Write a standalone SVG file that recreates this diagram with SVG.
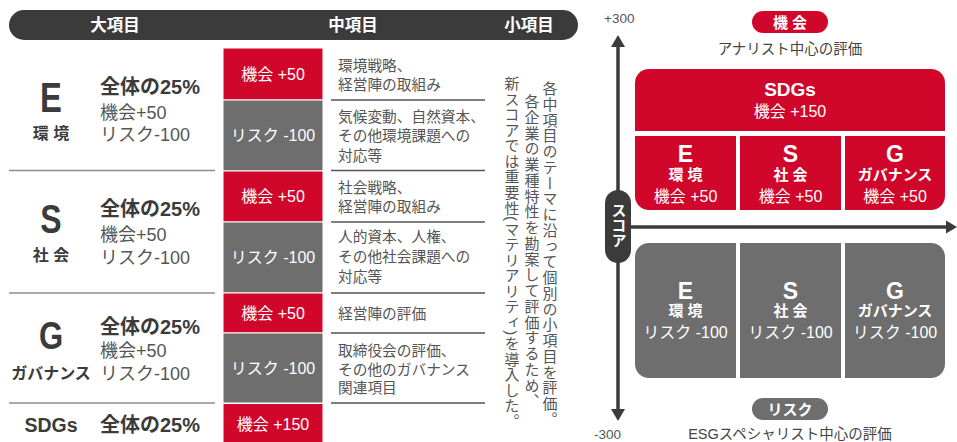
<svg xmlns="http://www.w3.org/2000/svg" width="957" height="442" viewBox="0 0 957 442">
<style>
text{font-family:"Liberation Sans","Noto Sans CJK JP",sans-serif}
.hd{font-size:16.5px;font-weight:bold;fill:#fff;text-anchor:middle}
.big{font-weight:bold;fill:#3b3b3b;text-anchor:middle}
.cat{font-size:16px;font-weight:bold;fill:#3b3b3b;text-anchor:middle}
.pct{font-size:20px;font-weight:bold;fill:#3b3b3b}
.sub{font-size:18px;fill:#555}
.bx{font-size:16px;fill:#fff;text-anchor:middle}
.mid{font-size:14.7px;fill:#555}
.vt{font-size:15px;fill:#555;writing-mode:vertical-rl;letter-spacing:0.75px}
.red{fill:#d1062b}
.gry{fill:#6e6e6e}
.sepL{stroke:#8c8c8c;stroke-width:1.5}
.sepM{stroke:#555;stroke-width:1.5}
.wb{font-weight:bold;fill:#fff;text-anchor:middle}
.axis{stroke:#3b3b3b;stroke-width:3.5;fill:none}
.lab{font-size:13.5px;fill:#555}
.cap{font-size:14.5px;fill:#444;text-anchor:middle}
</style>

<g id="header">
<rect x="9" y="10" width="569" height="30" rx="15" fill="#3b3b3b"/>
<text class="hd" x="115" y="31">大項目</text>
<text class="hd" x="353" y="31">中項目</text>
<text class="hd" x="529" y="31">小項目</text>
</g>

<g id="separators">
<line class="sepL" x1="9" y1="170.5" x2="215" y2="170.5"/>
<line class="sepL" x1="9" y1="293" x2="215" y2="293"/>
<line class="sepL" x1="9" y1="403" x2="215" y2="403"/>
<line class="sepM" x1="331" y1="100" x2="485" y2="100"/>
<line class="sepM" x1="331" y1="170.5" x2="485" y2="170.5"/>
<line class="sepM" x1="331" y1="222" x2="485" y2="222"/>
<line class="sepM" x1="331" y1="293" x2="485" y2="293"/>
<line class="sepM" x1="331" y1="333" x2="485" y2="333"/>
<line class="sepM" x1="331" y1="403" x2="485" y2="403"/>
</g>

<g id="row-E">
<text class="big" font-size="42" transform="translate(51,112) scale(0.78,1)">E</text>
<text class="cat" x="51" y="139">環 境</text>
<text class="pct" x="100" y="94">全体の25%</text>
<text class="sub" x="100" y="119">機会+50</text>
<text class="sub" x="100" y="141">リスク-100</text>
</g>
<g id="row-S">
<text class="big" font-size="40" transform="translate(51,233) scale(0.8,1)">S</text>
<text class="cat" x="51" y="261">社 会</text>
<text class="pct" x="100" y="216">全体の25%</text>
<text class="sub" x="100" y="241">機会+50</text>
<text class="sub" x="100" y="264">リスク-100</text>
</g>
<g id="row-G">
<text class="big" font-size="38" transform="translate(51,349) scale(0.82,1)">G</text>
<text class="cat" x="51" y="379">ガバナンス</text>
<text class="pct" x="100" y="334">全体の25%</text>
<text class="sub" x="100" y="357">機会+50</text>
<text class="sub" x="100" y="380">リスク-100</text>
</g>
<g id="row-SDGs">
<text class="big" font-size="19.5" x="51" y="432">SDGs</text>
<text class="pct" x="100" y="432">全体の25%</text>
</g>

<g id="mid-boxes" stroke="#fff" stroke-width="1">
<rect class="red" x="223" y="48" width="100" height="52"/>
<rect class="gry" x="223" y="100" width="100" height="71"/>
<rect class="red" x="223" y="171" width="100" height="51"/>
<rect class="gry" x="223" y="222" width="100" height="71"/>
<rect class="red" x="223" y="293" width="100" height="40"/>
<rect class="gry" x="223" y="333" width="100" height="70"/>
<rect class="red" x="223" y="403.5" width="100" height="40"/>
</g>
<g id="mid-box-labels">
<text class="bx" x="273" y="80">機会 +50</text>
<text class="bx" x="273" y="141">リスク -100</text>
<text class="bx" x="273" y="202">機会 +50</text>
<text class="bx" x="273" y="263">リスク -100</text>
<text class="bx" x="273" y="319">機会 +50</text>
<text class="bx" x="273" y="374">リスク -100</text>
<text class="bx" x="273" y="430">機会 +150</text>
</g>

<g id="mid-text">
<text class="mid" x="338" y="71">環境戦略、</text>
<text class="mid" x="338" y="90">経営陣の取組み</text>
<text class="mid" x="338" y="122">気候変動、自然資本、</text>
<text class="mid" x="338" y="141">その他環境課題への</text>
<text class="mid" x="338" y="161">対応等</text>
<text class="mid" x="338" y="193">社会戦略、</text>
<text class="mid" x="338" y="212">経営陣の取組み</text>
<text class="mid" x="338" y="242">人的資本、人権、</text>
<text class="mid" x="338" y="262">その他社会課題への</text>
<text class="mid" x="338" y="282">対応等</text>
<text class="mid" x="338" y="319">経営陣の評価</text>
<text class="mid" x="338" y="356">取締役会の評価、</text>
<text class="mid" x="338" y="375">その他のガバナンス</text>
<text class="mid" x="338" y="393">関連項目</text>
</g>

<g id="small-items-note">
<text class="vt" x="549" y="81">各中項目のテーマに沿って個別の小項目を評価。</text>
<text class="vt" x="531" y="94">各企業の業種特性を勘案して評価するため、</text>
<text class="vt" x="511" y="76" style="letter-spacing:0.55px">新スコアでは重要性(マテリアリティ)を導入した。</text>
</g>

<g id="connectors">
<line class="axis" x1="618" y1="45" x2="618" y2="410"/>
<polygon points="618,35 611,47 625,47" fill="#3b3b3b"/>
<polygon points="618,421 611,409 625,409" fill="#3b3b3b"/>
<line class="axis" x1="628" y1="227" x2="948" y2="227"/>
<polygon points="957,227 946,220.5 946,233.5" fill="#3b3b3b"/>
</g>

<g id="axis-labels">
<text class="lab" x="604" y="23">+300</text>
<text class="lab" x="594" y="439">-300</text>
</g>

<g id="score-pill">
<rect x="605" y="190" width="26" height="73" rx="13" fill="#3b3b3b"/>
<text x="618" y="203" font-size="15" font-weight="bold" fill="#fff" style="writing-mode:vertical-rl">スコア</text>
</g>

<g id="opportunity-label">
<rect x="752" y="11" width="76" height="22" rx="11" class="red"/>
<text class="wb" x="790" y="28" font-size="15">機 会</text>
<text class="cap" x="790" y="54">アナリスト中心の評価</text>
</g>

<g id="risk-label">
<rect x="752" y="398" width="76" height="22" rx="11" class="gry"/>
<text class="wb" x="790" y="415" font-size="15">リスク</text>
<text class="cap" x="790" y="438.5">ESGスペシャリスト中心の評価</text>
</g>

<g id="sdgs-opp">
<path class="red" d="M635,131 V83 A14,14 0 0 1 649,69 H931 A14,14 0 0 1 945,83 V131 Z"/>
<text class="wb" x="790" y="96" font-size="19">SDGs</text>
<text class="bx" x="790" y="117">機会 +150</text>
</g>
<g id="e-opp">
<path class="red" d="M635,136 H736 V210 H649 A14,14 0 0 1 635,196 Z"/>
<text class="wb" x="685.5" y="162" font-size="23">E</text>
<text class="wb" x="685.5" y="180" font-size="15">環 境</text>
<text class="bx" x="685.5" y="202">機会 +50</text>
</g>
<g id="s-opp">
<rect class="red" x="740" y="136" width="101" height="74"/>
<text class="wb" x="790.5" y="162" font-size="23">S</text>
<text class="wb" x="790.5" y="180" font-size="15">社 会</text>
<text class="bx" x="790.5" y="202">機会 +50</text>
</g>
<g id="g-opp">
<path class="red" d="M845,136 H945 V196 A14,14 0 0 1 931,210 H845 Z"/>
<text class="wb" x="895" y="162" font-size="23">G</text>
<text class="wb" x="895" y="180" font-size="15">ガバナンス</text>
<text class="bx" x="895" y="202">機会 +50</text>
</g>
<g id="e-risk">
<path class="gry" d="M649,243 H736 V378 H649 A14,14 0 0 1 635,364 V257 A14,14 0 0 1 649,243 Z"/>
<text class="wb" x="685.5" y="299" font-size="23">E</text>
<text class="wb" x="685.5" y="316" font-size="15">環 境</text>
<text class="bx" x="685.5" y="338">リスク -100</text>
</g>
<g id="s-risk">
<rect class="gry" x="740" y="243" width="101" height="135"/>
<text class="wb" x="790.5" y="299" font-size="23">S</text>
<text class="wb" x="790.5" y="316" font-size="15">社 会</text>
<text class="bx" x="790.5" y="338">リスク -100</text>
</g>
<g id="g-risk">
<path class="gry" d="M845,243 H931 A14,14 0 0 1 945,257 V364 A14,14 0 0 1 931,378 H845 Z"/>
<text class="wb" x="895" y="299" font-size="23">G</text>
<text class="wb" x="895" y="316" font-size="15">ガバナンス</text>
<text class="bx" x="895" y="338">リスク -100</text>
</g>
</svg>
